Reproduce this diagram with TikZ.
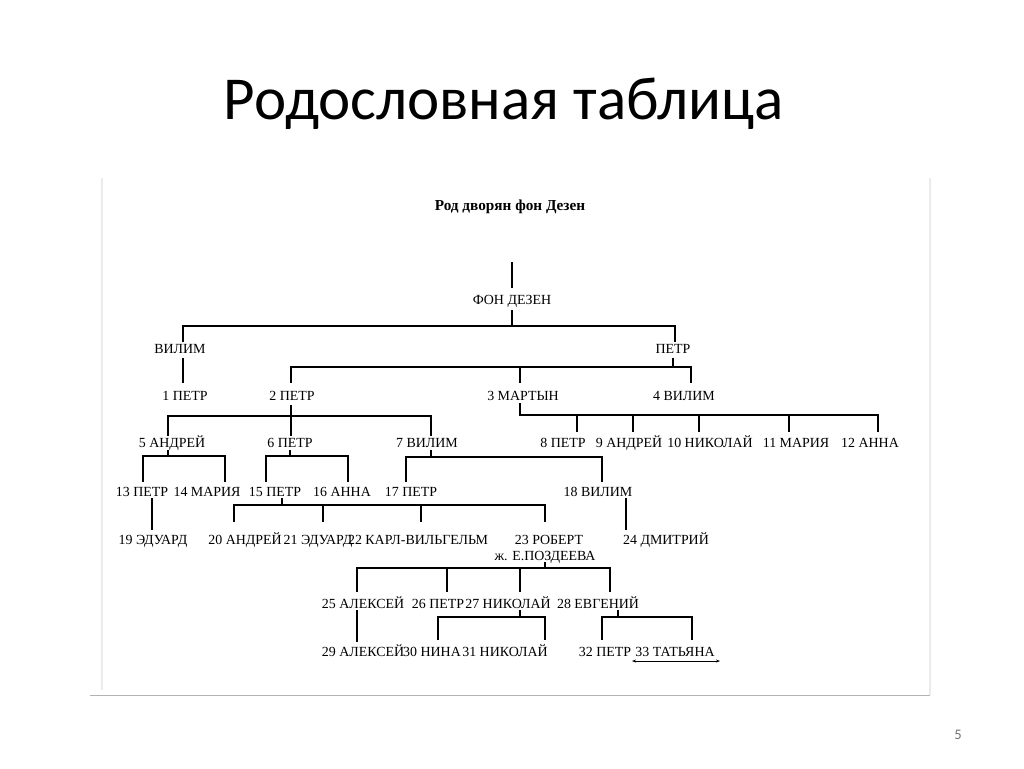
\documentclass[tikz,border=0pt]{standalone}
\usepackage{fontspec}
\setmainfont{Liberation Serif}
\newfontfamily\titlefont{Carlito}
\usetikzlibrary{arrows.meta}
\begin{document}
\begin{tikzpicture}[x=0.0265cm,y=-0.0265cm,
  person/.style = {font=\fontsize{10.5}{12}\selectfont, inner sep=0pt, text height=7.5pt, text depth=0pt},
  line/.style = {line width=0.9pt}]
	\useasboundingbox[fill=white] (0,0) rectangle (1024,768);
	\draw[black!8, line width=1pt] (102,178) -- (102,690) (930,178) -- (930,695);
	\draw[black!30] (90,695) -- (930,695);
	\node[font=\titlefont\fontsize{46}{52}\selectfont] (title) at (504,104) {Родословная таблица};
	\node[font=\titlefont\fontsize{11}{12}\selectfont, text=black!55] (page) at (958,735) {5};
	\node[font=\bfseries\fontsize{11.5}{12}\selectfont] (head) at (510,207) {Род дворян фон Дезен};
	% generations
	\node[person] (fon) at (512,300) {ФОН ДЕЗЕН};
	\node[person] (vilim) at (180,349) {ВИЛИМ};
	\node[person] (petr) at (673,349) {ПЕТР};
	\node[person] (n1) at (185,396) {1 ПЕТР};
	\node[person] (n2) at (292,396) {2 ПЕТР};
	\node[person] (n3) at (523,396) {3 МАРТЫН};
	\node[person] (n4) at (684,396) {4 ВИЛИМ};
	\node[person] (n5) at (172,443) {5 АНДРЕЙ};
	\node[person] (n6) at (290,443) {6 ПЕТР};
	\node[person] (n7) at (427,443) {7 ВИЛИМ};
	\node[person] (n8) at (563,443) {8 ПЕТР};
	\node[person] (n9) at (629,443) {9 АНДРЕЙ};
	\node[person] (n10) at (710,443) {10 НИКОЛАЙ};
	\node[person] (n11) at (796,443) {11 МАРИЯ};
	\node[person] (n12) at (870,443) {12 АННА};
	\node[person] (n13) at (142,492) {13 ПЕТР};
	\node[person] (n14) at (207,492) {14 МАРИЯ};
	\node[person] (n15) at (275,492) {15 ПЕТР};
	\node[person] (n16) at (342,492) {16 АННА};
	\node[person] (n17) at (411,492) {17 ПЕТР};
	\node[person] (n18) at (598,492) {18 ВИЛИМ};
	\node[person] (n19) at (153,540) {19 ЭДУАРД};
	\node[person] (n20) at (245,540) {20 АНДРЕЙ};
	\node[person] (n21) at (318,540) {21 ЭДУАРД};
	\node[person] (n22) at (418,540) {22 КАРЛ-ВИЛЬГЕЛЬМ};
	\node[person] (n23) at (549,540) {23 РОБЕРТ};
	\node[person] (wife) at (545,556) {ж. Е.ПОЗДЕЕВА};
	\node[person] (n24) at (666,540) {24 ДМИТРИЙ};
	\node[person] (n25) at (363,604) {25 АЛЕКСЕЙ};
	\node[person] (n26) at (438,604) {26 ПЕТР};
	\node[person] (n27) at (508,604) {27 НИКОЛАЙ};
	\node[person] (n28) at (598,604) {28 ЕВГЕНИЙ};
	\node[person] (n29) at (363,652) {29 АЛЕКСЕЙ};
	\node[person] (n30) at (432,652) {30 НИНА};
	\node[person] (n31) at (505,652) {31 НИКОЛАЙ};
	\node[person] (n32) at (605,652) {32 ПЕТР};
	\node[person] (n33) at (675,652) {33 ТАТЬЯНА};
	% connectors
	\draw[line] (512,262) -- (512,288);
	\draw[line] (512,310) -- (512,326) (183,342) |- (675,326) -- (675,342);
	\draw[line] (183,358) -- (183,383);
	\draw[line] (673,358) -- (673,367) (291,383) |- (691,367) -- (691,383) (520,367) -- (520,383);
	\draw[line] (291,405) -- (291,436) (168,436) |- (431,416) -- (431,436);
	\draw[line] (520,403) |- (878,415) -- (878,432);
	\foreach \x in {577,633,699,789} \draw[line] (\x,415) -- (\x,432);
	\draw[line] (168,450) -- (168,456) (143,482) |- (225,456) -- (225,482);
	\draw[line] (290,450) -- (290,456) (266,482) |- (348,456) -- (348,482);
	\draw[line] (431,450) -- (431,457) (406,482) |- (602,457) -- (602,482);
	\draw[line] (152,498) -- (152,530);
	\draw[line] (282,498) -- (282,505) (234,522) |- (545,505) -- (545,522);
	\foreach \x in {323,421} \draw[line] (\x,505) -- (\x,522);
	\draw[line] (626,498) -- (626,530);
	\draw[line] (545,562) -- (545,568) (357,592) |- (610,568) -- (610,592);
	\foreach \x in {447,520} \draw[line] (\x,568) -- (\x,592);
	\draw[line] (357,610) -- (357,642);
	\draw[line] (520,610) -- (520,617) (438,640) |- (545,617) -- (545,640);
	\draw[line] (618,610) -- (618,617) (602,640) |- (692,617) -- (692,640);
	\draw[line width=0.6pt, {Stealth[length=3pt]}-{Stealth[length=3pt]}] (632,661) -- (720,661);
\end{tikzpicture}
\end{document}
